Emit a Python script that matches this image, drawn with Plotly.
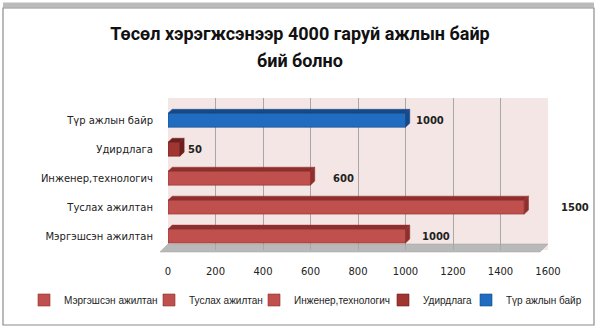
import plotly.graph_objects as go

categories = ["Мэргэшсэн ажилтан", "Туслах ажилтан", "Инженер,технологич", "Удирдлага", "Түр ажлын байр"]
values = [1000, 1500, 600, 50, 1000]
colors = ["#c0504d", "#c0504d", "#c0504d", "#a03532", "#1f6cc0"]
top_colors = ["#8f2f2d", "#8f2f2d", "#8f2f2d", "#6e1f1d", "#15498a"]
x_ticks = [0, 200, 400, 600, 800, 1000, 1200, 1400, 1600]
title_lines = ["Төсөл хэрэгжсэнээр 4000 гаруй ажлын байр", "бий болно"]

H = 0.48   # bar thickness (category units)
DX = 18    # depth (value units)
DY = 0.14  # depth (category units)

legend_ids = ["legend", "legend2", "legend3", "legend4", "legend5"]
legend_px = [38, 163, 268, 397, 480]   # left edge of each legend symbol (px)

fig = go.Figure()
for i, (cat, v, c, tc) in enumerate(zip(categories, values, colors, top_colors)):
    fig.add_trace(go.Bar(
        y=[i], x=[v], orientation="h", name=cat, width=H,
        marker=dict(color=c, line=dict(color=tc, width=0.6)),
        legend=legend_ids[i], showlegend=True,
    ))
    # top face
    fig.add_trace(go.Scatter(
        x=[0, v, v + DX, DX, 0], y=[i + H/2, i + H/2, i + H/2 + DY, i + H/2 + DY, i + H/2],
        mode="lines", fill="toself", fillcolor=tc, line=dict(color=tc, width=0.5),
        showlegend=False, hoverinfo="skip"))
    # side face
    fig.add_trace(go.Scatter(
        x=[v, v + DX, v + DX, v, v], y=[i - H/2, i - H/2 + DY, i + H/2 + DY, i + H/2, i - H/2],
        mode="lines", fill="toself", fillcolor=tc, line=dict(color=tc, width=0.5),
        showlegend=False, hoverinfo="skip"))

label_shift = [10, 30, 16, 2, 4]
for i, v in enumerate(values):
    fig.add_annotation(x=v + DX, y=i, text=f"<b>{v}</b>", showarrow=False,
                       xanchor="left", xshift=label_shift[i], yshift=0,
                       font=dict(size=10, color="#222", family="DejaVu Sans"))

L, T, W, Hh = 168, 98, 380, 152
def px(x):
    return (x - L) / W
def py(y):
    return 1 - (y - T) / Hh

shapes = [
    # floor
    dict(type="path", xref="paper", yref="paper",
         path=f"M {px(160)} {py(252)} L {px(540)} {py(252)} L {px(548)} {py(244)} L {px(168)} {py(244)} Z",
         fillcolor="#b9b9b9", line=dict(color="#a0a0a0", width=0.5), layer="below"),
    # frame
    dict(type="rect", xref="paper", yref="paper", x0=px(3), x1=px(594), y0=py(325), y1=py(8),
         line=dict(color="#8c8c8c", width=1.2), fillcolor="rgba(0,0,0,0)"),
    dict(type="line", xref="paper", yref="paper", x0=px(3), x1=px(594), y0=py(5), y1=py(5),
         line=dict(color="rgba(120,120,120,0.5)", width=5)),
]

title = "<br>".join(f'<span style="font-size:18px">{t}</span>' for t in title_lines)

legend_layout = {}
for lid, lx in zip(legend_ids, legend_px):
    legend_layout[lid] = dict(
        orientation="h", x=(lx - 14) / 600, xref="container", xanchor="left",
        y=(332 - 300) / 332, yref="container", yanchor="middle",
        bgcolor="rgba(0,0,0,0)", borderwidth=0,
        font=dict(size=10, family="Liberation Sans, Arial", color="#222"),
        itemwidth=30)

fig.update_layout(
    width=600, height=332,
    margin=dict(l=L, r=600 - L - W, t=T, b=332 - T - Hh, autoexpand=False),
    paper_bgcolor="white", plot_bgcolor="#f5e6e6",
    barmode="overlay",
    title=dict(text=title, x=0.5, xref="container", xanchor="center", y=1 - 40/332, yanchor="middle",
               font=dict(family="Roboto", size=21, color="#111", weight="bold")),
    xaxis=dict(range=[0, 1600], tickvals=x_ticks, showgrid=True, gridcolor="#a8a8a8", gridwidth=1,
               zeroline=False, showline=False, ticks="", ticklabelstandoff=14,
               tickfont=dict(size=10, family="DejaVu Sans", color="#222")),
    yaxis=dict(range=[-0.48, 4.77], tickvals=list(range(len(categories))), ticktext=categories,
               showgrid=False, zeroline=False, showline=False, ticks="", ticklabelstandoff=14,
               tickfont=dict(size=10, family="DejaVu Sans", color="#222")),
    shapes=shapes,
    showlegend=True,
    **legend_layout,
)

fig.write_html("out.html")
